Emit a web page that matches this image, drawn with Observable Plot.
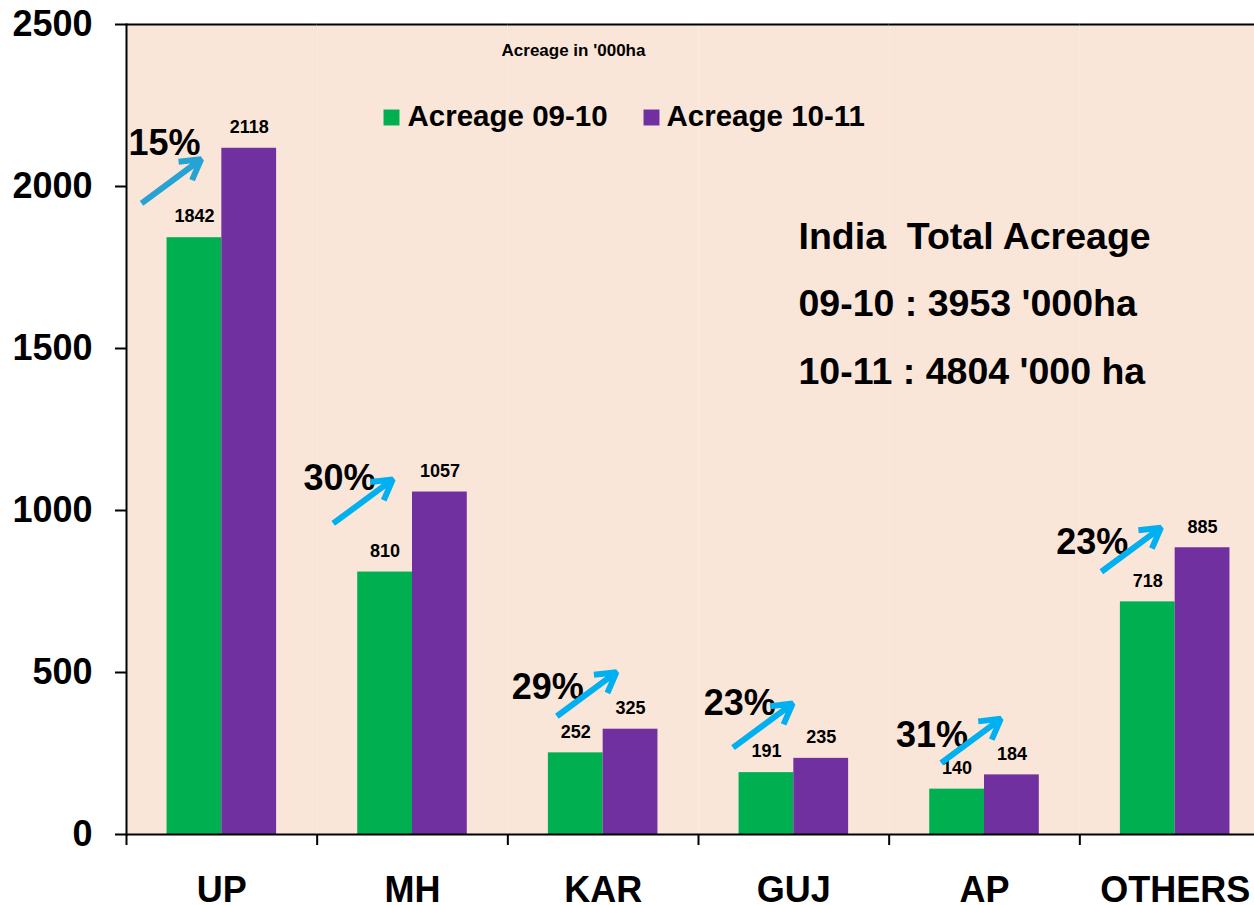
<!DOCTYPE html>
<html>
<head>
<meta charset="utf-8">
<script src="https://cdn.jsdelivr.net/npm/d3@7"></script>
<script src="https://cdn.jsdelivr.net/npm/@observablehq/plot@0.6"></script>
<style>
  html, body { margin: 0; padding: 0; background: #fff; overflow: hidden; width: 1254px; height: 905px; }
</style>
</head>
<body>
<div id="chart"></div>
<script>
// ---- data ----
const states = ["UP", "MH", "KAR", "GUJ", "AP", "OTHERS"];
const years = ["09-10", "10-11"];
const seriesNames = ["Acreage 09-10", "Acreage 10-11"];
const acreage0910 = [1842, 810, 252, 191, 140, 718];
const acreage1011 = [2118, 1057, 325, 235, 184, 885];
const yTicks = [0, 500, 1000, 1500, 2000, 2500];
const unitNote = "Acreage in '000ha";
const totalLines = ["India\u00a0 Total Acreage", "09-10 : 3953 '000ha", "10-11 : 4804 '000 ha"];

// ---- derived table ----
const rows = states.flatMap((s, i) => [
  {state: s, year: years[0], value: acreage0910[i]},
  {state: s, year: years[1], value: acreage1011[i]}
]);
const growth = states.map((s, i) => ({
  state: s,
  pct: Math.round((acreage1011[i] - acreage0910[i]) / acreage0910[i] * 100) + "%"
}));

// ---- styling / annotation placement ----
const colors = ["#00B050", "#7030A0"];
const bg = "#FAE6D8";
const W = 1270, H = 905, ML = 126, MR = 0, MT = 24, MB = 71;
const half = (W - ML - MR) / states.length / 2;
// pct label: dx from the 09-10 bar centre, y in '000ha; arrow: dx from state centre, mid y in '000ha
const place = {
  UP:     {pdx: -30, py: 2134, adx: -50.5, ay: 2016, color: "#26A3D4"},
  MH:     {pdx: -45.5, py: 1098, adx: -49.5, ay: 1028, color: "#00B0F0"},
  KAR:    {pdx: -28, py: 455, adx: -16.5, ay: 433, color: "#00B0F0"},
  GUJ:    {pdx: -26.7, py: 404, adx: -31, ay: 336, color: "#00B0F0"},
  AP:     {pdx: -25, py: 306, adx: -13.5, ay: 289, color: "#00B0F0"},
  OTHERS: {pdx: -55.6, py: 902, adx: -44, ay: 879, color: "#00B0F0"}
};
const halfRise = 62.5;

const noteMarks = growth.flatMap(g => {
  const p = place[g.state];
  const d = {state: g.state, pct: g.pct, a: years[0], b: years[1],
             py: p.py, y1: p.ay - halfRise, y2: p.ay + halfRise};
  return [
    Plot.text([d], {fx: "state", x: "a", y: "py", text: "pct", dx: p.pdx, fontSize: 36, fill: "#000"}),
    Plot.arrow([d], {fx: "state", x1: "a", x2: "b", y1: "y1", y2: "y2", dx: p.adx,
      stroke: p.color, strokeWidth: 6, headAngle: 60, headLength: 8,
      insetStart: -3, insetEnd: -3, strokeLinecap: "butt", strokeLinejoin: "miter"})
  ];
});

const UP = () => states[0];
const tx = (text, dx, dy, fontSize, textAnchor = "start") =>
  Plot.text([text], {fx: UP, frameAnchor: "top-left", dx, dy, textAnchor, lineAnchor: "middle", fontSize, fill: "#000"});
const legendMarks = [
  tx(unitNote, 447, 26, 17, "middle"),
  Plot.dot([seriesNames[0]], {fx: UP, frameAnchor: "top-left", dx: 265, dy: 93, symbol: "square", r: 9, fill: colors[0]}),
  tx(seriesNames[0], 281, 92, 29.5),
  Plot.dot([seriesNames[1]], {fx: UP, frameAnchor: "top-left", dx: 525, dy: 93, symbol: "square", r: 9, fill: colors[1]}),
  tx(seriesNames[1], 540, 92, 29.5),
  tx(totalLines[0], 672, 212, 37.5),
  tx(totalLines[1], 672, 279, 37.5),
  tx(totalLines[2], 672, 347, 37.5)
];

const chart = Plot.plot({
  width: W, height: H,
  marginLeft: ML, marginRight: MR, marginTop: MT, marginBottom: MB,
  style: {fontFamily: "'Liberation Sans', Arial, sans-serif", fontWeight: "bold", color: "#000",
          background: "#fff", maxWidth: "none", overflow: "visible"},
  fx: {domain: states, padding: 0, round: false},
  x: {domain: years, paddingInner: 0, paddingOuter: 0.74, round: false, axis: null},
  y: {domain: [0, 2500]},
  color: {domain: years, range: colors},
  marks: [
    Plot.frame({fill: bg, stroke: "none"}),
    Plot.barY(rows, {fx: "state", x: "year", y: "value", fill: "year"}),
    Plot.ruleY([0, 2500], {stroke: "#000", strokeWidth: 2}),
    Plot.frame({anchor: "left", facetAnchor: "left", stroke: "#000", strokeWidth: 2}),
    Plot.axisY({ticks: yTicks, tickSize: 11, tickPadding: 23, tickFormat: d3.format("d"),
      fontSize: 36, label: null, strokeWidth: 2}),
    Plot.axisFx({anchor: "bottom", text: null, tickSize: 11, dx: -half, strokeWidth: 2, label: null}),
    Plot.axisFx({anchor: "bottom", tickSize: 0, tickPadding: 42, fontSize: 36, label: null}),
    Plot.text(rows, {fx: "state", x: "year", y: "value", text: d => String(d.value), dy: -21, fontSize: 18, fill: "#000"}),
    ...noteMarks,
    ...legendMarks
  ]
});
document.getElementById("chart").appendChild(chart);
</script>
</body>
</html>
